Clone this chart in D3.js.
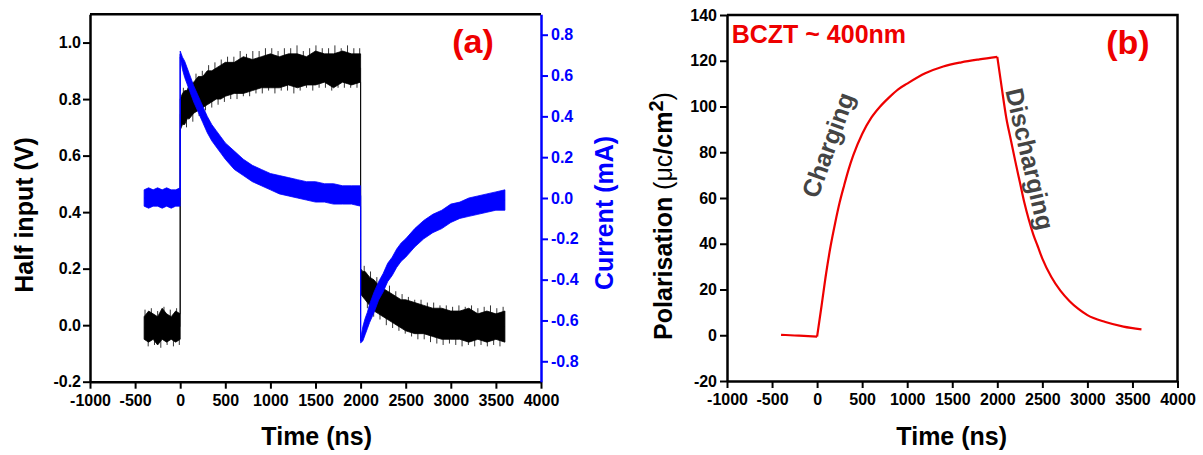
<!DOCTYPE html>
<html>
<head>
<meta charset="utf-8">
<script src="https://cdn.jsdelivr.net/npm/d3@7"></script>
<style>
  body { margin: 0; background: #fff; }
  svg text { font-family: Arial, "Liberation Sans", sans-serif; }
</style>
</head>
<body>
<div id="chart"></div>
<script>
// ---- panel (a): oscilloscope traces, band = min/max of the noisy trace ----
const timeA = [
  -400, -350, -300, -250, -200, -150, -100, -50, 0,
  0, 25, 50, 75, 100, 150, 200, 250, 300, 350, 400, 450, 500,
  600, 700, 800, 900, 1000, 1100, 1200, 1300, 1400, 1500, 1600, 1700, 1800, 1900, 2000,
  2000, 2025, 2050, 2075, 2100, 2150, 2200, 2250, 2300, 2350, 2400, 2450, 2500,
  2600, 2700, 2800, 2900, 3000, 3100, 3200, 3300, 3400, 3500, 3600
];
const inputHi = [
  0.03, 0.05, 0.04, 0.03, 0.06, 0.04, 0.03, 0.05, 0.04,
  0.80, 0.82, 0.83, 0.83, 0.85, 0.86, 0.88, 0.88, 0.90, 0.90, 0.91, 0.92, 0.93,
  0.93, 0.95, 0.94, 0.95, 0.96, 0.95, 0.96, 0.96, 0.95, 0.97, 0.96, 0.96, 0.97, 0.96, 0.96,
  0.20, 0.19, 0.19, 0.18, 0.17, 0.16, 0.14, 0.13, 0.12, 0.11, 0.10, 0.09, 0.09,
  0.08, 0.07, 0.06, 0.06, 0.05, 0.05, 0.06, 0.04, 0.05, 0.04, 0.05
];
const inputLo = [
  -0.05, -0.06, -0.05, -0.07, -0.05, -0.06, -0.05, -0.06, -0.05,
  0.69, 0.71, 0.71, 0.73, 0.73, 0.75, 0.76, 0.77, 0.78, 0.79, 0.80, 0.80, 0.81,
  0.82, 0.82, 0.83, 0.84, 0.84, 0.84, 0.85, 0.84, 0.85, 0.85, 0.86, 0.84, 0.86, 0.85, 0.86,
  0.11, 0.10, 0.09, 0.08, 0.07, 0.05, 0.04, 0.03, 0.02, 0.01, 0.00, -0.01, -0.02,
  -0.03, -0.03, -0.04, -0.05, -0.05, -0.05, -0.06, -0.05, -0.06, -0.05, -0.06
];
// noise spikes poking out of the black band [time, volts]
const inputSpikesUp = [
  [-390, 0.055], [-320, 0.06], [-250, 0.05], [-180, 0.065], [-110, 0.055], [-40, 0.06],
  [35, 0.84], [105, 0.87], [175, 0.89], [245, 0.90], [315, 0.92], [385, 0.93], [455, 0.94],
  [525, 0.95], [595, 0.95], [665, 0.97], [735, 0.96], [805, 0.97], [875, 0.97], [945, 0.98],
  [1015, 0.98], [1085, 0.97], [1155, 0.98], [1225, 0.98], [1295, 0.99], [1365, 0.97], [1435, 0.98],
  [1505, 0.99], [1575, 0.98], [1645, 0.98], [1715, 0.99], [1785, 0.98], [1855, 0.99], [1925, 0.98],
  [1990, 0.98],
  [2040, 0.21], [2110, 0.19], [2180, 0.17], [2250, 0.15], [2320, 0.14], [2390, 0.12], [2460, 0.11],
  [2530, 0.10], [2600, 0.09], [2670, 0.09], [2740, 0.08], [2810, 0.08], [2880, 0.07], [2950, 0.07],
  [3020, 0.065], [3090, 0.07], [3160, 0.065], [3230, 0.07], [3300, 0.06], [3370, 0.065], [3440, 0.07],
  [3510, 0.06], [3580, 0.065]
];
const inputSpikesDown = [
  [-355, -0.075], [-285, -0.07], [-215, -0.08], [-145, -0.07], [-75, -0.075], [-10, -0.07],
  [70, 0.70], [140, 0.72], [210, 0.74], [280, 0.76], [350, 0.77], [420, 0.78], [490, 0.79],
  [560, 0.80], [630, 0.80], [700, 0.81], [770, 0.81], [840, 0.82], [910, 0.82], [980, 0.83],
  [1050, 0.82], [1120, 0.83], [1190, 0.83], [1260, 0.82], [1330, 0.83], [1400, 0.84], [1470, 0.83],
  [1540, 0.84], [1610, 0.84], [1680, 0.83], [1750, 0.84], [1820, 0.84], [1890, 0.84], [1960, 0.84],
  [2075, 0.06], [2145, 0.03], [2215, 0.02], [2285, 0.00], [2355, -0.01], [2425, -0.02], [2495, -0.03],
  [2565, -0.04], [2635, -0.05], [2705, -0.05], [2775, -0.06], [2845, -0.065], [2915, -0.07],
  [2985, -0.065], [3055, -0.07], [3125, -0.075], [3195, -0.07], [3265, -0.075], [3335, -0.07],
  [3405, -0.075], [3475, -0.07], [3545, -0.075]
];
const currentHi = [
  0.04, 0.05, 0.04, 0.05, 0.04, 0.05, 0.04, 0.04, 0.05,
  0.72, 0.69, 0.67, 0.64, 0.61, 0.55, 0.50, 0.45, 0.40, 0.36, 0.33, 0.30, 0.27,
  0.23, 0.19, 0.16, 0.14, 0.12, 0.11, 0.10, 0.09, 0.08, 0.08, 0.07, 0.07, 0.06, 0.06, 0.06,
  -0.69, -0.63, -0.59, -0.56, -0.52, -0.46, -0.41, -0.37, -0.32, -0.29, -0.25, -0.22, -0.20,
  -0.15, -0.11, -0.08, -0.06, -0.03, -0.02, 0.00, 0.01, 0.02, 0.03, 0.04
];
const currentLo = [
  -0.04, -0.05, -0.04, -0.04, -0.05, -0.04, -0.05, -0.04, -0.04,
  0.69, 0.63, 0.59, 0.56, 0.53, 0.47, 0.42, 0.37, 0.32, 0.28, 0.25, 0.22, 0.19,
  0.14, 0.11, 0.08, 0.06, 0.04, 0.02, 0.01, 0.00, -0.01, -0.02, -0.02, -0.03, -0.03, -0.03, -0.04,
  -0.71, -0.70, -0.67, -0.64, -0.61, -0.56, -0.50, -0.46, -0.41, -0.38, -0.34, -0.31, -0.29,
  -0.24, -0.20, -0.17, -0.15, -0.12, -0.10, -0.09, -0.08, -0.07, -0.06, -0.06
];

// ---- panel (b): polarisation ----
const timeB = [
  -400, -300, -200, -100, 0, 50, 100, 150, 200, 250, 300, 350, 400,
  500, 600, 700, 800, 900, 1000, 1200, 1400, 1600, 1800, 2000,
  2050, 2100, 2150, 2200, 2250, 2300, 2350, 2400, 2450, 2500,
  2600, 2700, 2800, 2900, 3000, 3200, 3400, 3600
];
const polarisation = [
  0.2, 0, -0.2, -0.4, -0.6, 13, 27, 39, 49, 58, 65.5, 72.5, 78.5,
  88, 95, 100, 104, 107.5, 110, 114.5, 117.5, 119.3, 120.6, 121.7,
  108, 95, 85.5, 76, 67, 58, 50.5, 44, 38.8, 33.5,
  25.5, 19.5, 15, 11.5, 8.8, 5.8, 3.8, 2.6
];

// ticks
const timeTicks = [-1000, -500, 0, 500, 1000, 1500, 2000, 2500, 3000, 3500, 4000];
const inputTicks = [-0.2, 0.0, 0.2, 0.4, 0.6, 0.8, 1.0];
const currentTicks = [-0.8, -0.6, -0.4, -0.2, 0.0, 0.2, 0.4, 0.6, 0.8];
const polTicks = [-20, 0, 20, 40, 60, 80, 100, 120, 140];

const width = 1203, height = 455;
const blue = "#0000ff", red = "#ee0000";

const svg = d3.select("#chart").append("svg")
    .attr("width", width)
    .attr("height", height);

const pa = {left: 90, right: 541, top: 14.3, bottom: 381.7};
const pb = {left: 727, right: 1177.5, top: 15, bottom: 381};

const xA = d3.scaleLinear().domain([-1000, 4000]).range([pa.left, pa.right]);
const yA = d3.scaleLinear().domain([-0.2, 1.1]).range([pa.bottom, pa.top]);
const yA2 = d3.scaleLinear().domain([-0.9, 0.9]).range([pa.bottom, pa.top]);
const xB = d3.scaleLinear().domain([-1000, 4000]).range([pb.left, pb.right]);
const yB = d3.scaleLinear().domain([-20, 140]).range([pb.bottom, pb.top]);

// minor ticks sit halfway between the majors
function halfway(ticks) {
  return ticks.slice(1).map((t, i) => (t + ticks[i]) / 2);
}

function drawAxis(axisFn, scale, at, ticks, fmt, color, pad) {
  const g = svg.append("g").attr("transform", at);
  g.call(axisFn(scale).tickValues(halfway(ticks)).tickSize(4).tickSizeOuter(0).tickFormat(""));
  g.call(axisFn(scale).tickValues(ticks).tickSize(7).tickSizeOuter(0).tickPadding(pad).tickFormat(fmt));
  g.selectAll("line").attr("stroke", color).attr("stroke-width", 2);
  g.selectAll(".domain").attr("stroke", color).attr("stroke-width", 2.5);
  g.selectAll("text")
      .attr("fill", color)
      .attr("font-size", 16)
      .attr("font-weight", "bold");
  return g;
}

const f1 = d => d.toFixed(1);
const f0 = d => String(d);

// panel (a) axes
drawAxis(d3.axisBottom, xA, `translate(0,${pa.bottom})`, timeTicks, f0, "#000", 6);
drawAxis(d3.axisLeft, yA, `translate(${pa.left},0)`, inputTicks, f1, "#000", 2);
svg.append("line")
    .attr("x1", pa.left).attr("x2", pa.right)
    .attr("y1", pa.top).attr("y2", pa.top)
    .attr("stroke", "#000").attr("stroke-width", 2.5);

// panel (b) axes
drawAxis(d3.axisBottom, xB, `translate(0,${pb.bottom})`, timeTicks, f0, "#000", 6);
drawAxis(d3.axisLeft, yB, `translate(${pb.left},0)`, polTicks, f0, "#000", 3);
svg.append("path")
    .attr("d", `M${pb.left},${pb.top}H${pb.right}V${pb.bottom}`)
    .attr("fill", "none")
    .attr("stroke", "#000").attr("stroke-width", 2.5);

// traces of (a)
const idx = d3.range(timeA.length);

function band(y, lo, hi) {
  return d3.area()
      .x(i => xA(timeA[i]))
      .y0(i => y(lo[i]))
      .y1(i => y(hi[i]));
}
function mid(y, lo, hi) {
  return d3.line()
      .x(i => xA(timeA[i]))
      .y(i => y((lo[i] + hi[i]) / 2));
}

// thin grey joins at the switching edges, under the black band
svg.append("path")
    .attr("d", mid(yA, inputLo, inputHi)(idx))
    .attr("fill", "none")
    .attr("stroke", "#888")
    .attr("stroke-width", 1);
svg.append("path")
    .attr("d", band(yA, inputLo, inputHi)(idx))
    .attr("fill", "#000")
    .attr("stroke", "#000")
    .attr("stroke-width", 0.8);

const spikes = svg.append("g").attr("stroke", "#000").attr("stroke-width", 0.8);
spikes.selectAll("line.up")
  .data(inputSpikesUp)
  .join("line")
    .attr("class", "up")
    .attr("x1", d => xA(d[0])).attr("x2", d => xA(d[0]))
    .attr("y1", d => yA(d[1])).attr("y2", d => yA(d[1] - 0.035));
spikes.selectAll("line.down")
  .data(inputSpikesDown)
  .join("line")
    .attr("class", "down")
    .attr("x1", d => xA(d[0])).attr("x2", d => xA(d[0]))
    .attr("y1", d => yA(d[1])).attr("y2", d => yA(d[1] + 0.035));

svg.append("path")
    .attr("d", band(yA2, currentLo, currentHi)(idx))
    .attr("fill", blue)
    .attr("stroke", blue)
    .attr("stroke-width", 0.8);
svg.append("path")
    .attr("d", mid(yA2, currentLo, currentHi)(idx))
    .attr("fill", "none")
    .attr("stroke", blue)
    .attr("stroke-width", 1.2);

// right blue axis drawn last so it sits over the traces
drawAxis(d3.axisRight, yA2, `translate(${pa.right},0)`, currentTicks, f1, blue, 3);

// trace of (b): three pieces so the corners at 0 and 2000 ns stay sharp
const iZero = timeB.indexOf(0), iOff = timeB.indexOf(2000);
const polLine = d3.line()
    .x(i => xB(timeB[i]))
    .y(i => yB(polarisation[i]))
    .curve(d3.curveMonotoneX);
svg.append("g")
    .selectAll("path")
    .data([d3.range(0, iZero + 1), d3.range(iZero, iOff + 1), d3.range(iOff, timeB.length)])
    .join("path")
    .attr("d", polLine)
    .attr("fill", "none")
    .attr("stroke", red)
    .attr("stroke-width", 2.2)
    .attr("stroke-linejoin", "round");

// axis titles
function title(x, y, rot, txt, color) {
  return svg.append("text")
      .attr("transform", `translate(${x},${y}) rotate(${rot})`)
      .attr("text-anchor", "middle")
      .attr("font-size", 25)
      .attr("font-weight", "bold")
      .attr("fill", color)
      .text(txt);
}
title(316.7, 445, 0, "Time (ns)", "#000");
title(951.7, 445, 0, "Time (ns)", "#000");
title(33.3, 215, -90, "Half input (V)", "#000");
title(613.3, 213, -90, "Current (mA)", blue);

const pol = svg.append("text")
    .attr("transform", "translate(671.7,216) rotate(-90)")
    .attr("text-anchor", "middle")
    .attr("font-size", 25)
    .attr("fill", "#000");
pol.append("tspan").attr("font-weight", "bold").text("Polarisation ");
pol.append("tspan").text("(\u03bcc");
pol.append("tspan").attr("font-weight", "bold").text("/cm");
pol.append("tspan").attr("font-weight", "bold").attr("dy", -9).attr("font-size", 20).text("2");
pol.append("tspan").attr("dy", 9).text(")");

// annotations
svg.append("text")
    .attr("x", 473).attr("y", 53)
    .attr("text-anchor", "middle")
    .attr("font-size", 34).attr("font-weight", "bold")
    .attr("fill", red).text("(a)");
svg.append("text")
    .attr("x", 1128).attr("y", 54)
    .attr("text-anchor", "middle")
    .attr("font-size", 34).attr("font-weight", "bold")
    .attr("fill", red).text("(b)");
svg.append("text")
    .attr("x", 731.7).attr("y", 43.3)
    .attr("font-size", 25).attr("font-weight", "bold")
    .attr("fill", red).text("BCZT ~ 400nm");

svg.append("text")
    .attr("transform", "translate(828,145) rotate(-70)")
    .attr("text-anchor", "middle").attr("dy", "0.35em")
    .attr("font-size", 25).attr("font-weight", "bold")
    .attr("fill", "#444").text("Charging");
svg.append("text")
    .attr("transform", "translate(1030,159) rotate(77)")
    .attr("text-anchor", "middle").attr("dy", "0.35em")
    .attr("font-size", 25).attr("font-weight", "bold")
    .attr("fill", "#444").text("Discharging");
</script>
</body>
</html>
